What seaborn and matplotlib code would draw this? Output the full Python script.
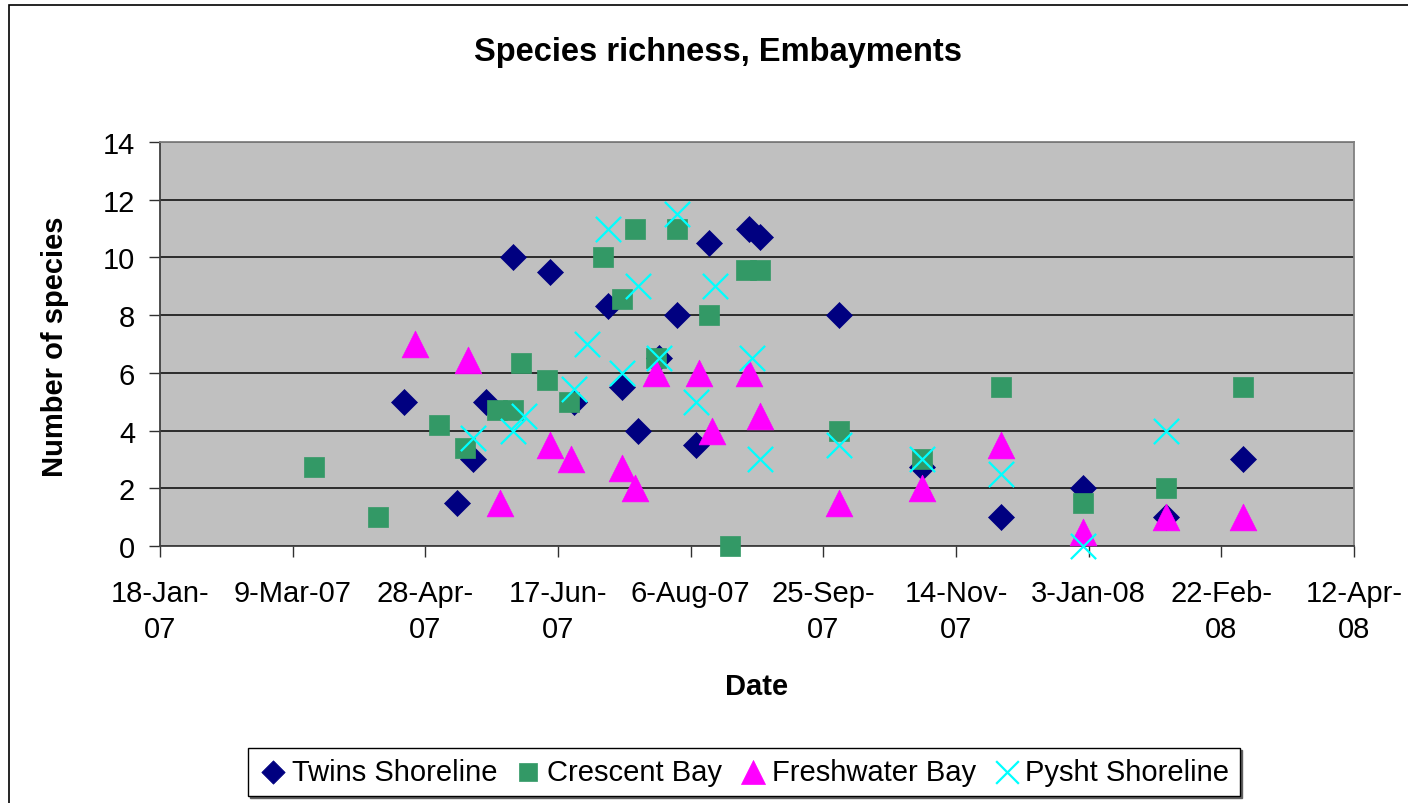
import matplotlib
matplotlib.use("Agg")
import matplotlib.pyplot as plt
from matplotlib.patches import Rectangle
import seaborn as sns
import pandas as pd

# sampling dates and species counts
twins_dates = ["2007-04-20", "2007-05-10", "2007-05-16", "2007-05-21", "2007-05-31",
               "2007-06-14", "2007-06-23", "2007-07-06", "2007-07-11", "2007-07-17",
               "2007-07-25", "2007-08-01", "2007-08-08", "2007-08-13", "2007-08-28",
               "2007-09-01", "2007-10-01", "2007-11-01", "2007-12-01", "2008-01-01",
               "2008-02-01", "2008-03-01"]
twins_values = [5, 1.5, 3, 5, 10, 9.5, 5, 8.3, 5.5, 4, 6.5, 8, 3.5, 10.5, 11, 10.7,
                8, 2.75, 1, 2, 1, 3]

crescent_dates = ["2007-03-17", "2007-04-10", "2007-05-03", "2007-05-13", "2007-05-25",
                  "2007-05-31", "2007-06-03", "2007-06-13", "2007-06-21", "2007-07-04",
                  "2007-07-11", "2007-07-16", "2007-07-24", "2007-08-01", "2007-08-13",
                  "2007-08-21", "2007-08-27", "2007-09-01", "2007-10-01", "2007-11-01",
                  "2007-12-01", "2008-01-01", "2008-02-01", "2008-03-01"]
crescent_values = [2.75, 1, 4.2, 3.4, 4.7, 4.7, 6.35, 5.75, 5, 10, 8.55, 11, 6.5, 11,
                   8, 0, 9.55, 9.55, 4, 3, 5.5, 1.5, 2, 5.5]

freshwater_dates = ["2007-04-24", "2007-05-14", "2007-05-26", "2007-06-14", "2007-06-22",
                    "2007-07-11", "2007-07-16", "2007-07-24", "2007-08-09", "2007-08-14",
                    "2007-08-28", "2007-09-01", "2007-10-01", "2007-11-01", "2007-12-01",
                    "2008-01-01", "2008-02-01", "2008-03-01"]
freshwater_values = [7, 6.45, 1.5, 3.5, 3, 2.7, 2, 6, 6, 4, 6, 4.5, 1.5, 2, 3.5, 0.5, 1, 1]

pysht_dates = ["2007-05-16", "2007-05-31", "2007-06-04", "2007-06-23", "2007-06-28",
               "2007-07-06", "2007-07-11", "2007-07-17", "2007-07-25", "2007-08-01",
               "2007-08-08", "2007-08-15", "2007-08-29", "2007-09-01", "2007-10-01",
               "2007-11-01", "2007-12-01", "2008-01-01", "2008-02-01"]
pysht_values = [3.75, 4, 4.5, 5.45, 7, 11, 6, 9, 6.5, 11.5, 5, 9, 6.5, 3, 3.5, 3, 2.5, 0, 4]

tick_dates = pd.date_range("2007-01-18", periods=10, freq="50D")
tick_labels = ["18-Jan-\n07", "9-Mar-07", "28-Apr-\n07", "17-Jun-\n07", "6-Aug-07",
               "25-Sep-\n07", "14-Nov-\n07", "3-Jan-08", "22-Feb-\n08", "12-Apr-\n08"]

series = [
    ("Twins Shoreline", twins_dates, twins_values, "#000080", "D", 175),
    ("Crescent Bay", crescent_dates, crescent_values, "#339966", "s", 200),
    ("Freshwater Bay", freshwater_dates, freshwater_values, "#FF00FF", "^", 370),
    ("Pysht Shoreline", pysht_dates, pysht_values, "#00FFFF", "x", 330),
]

sns.set_theme(style="white")
plt.rcParams["font.family"] = ["Liberation Sans", "DejaVu Sans"]
plt.rcParams["text.color"] = "black"

W, H = 1408, 804
fig = plt.figure(figsize=(W / 100, H / 100), dpi=100)
ax = fig.add_axes([160 / W, 1 - 547 / H, (1354 - 160) / W, (547 - 143) / H])
ax.set_facecolor("#C0C0C0")

for name, dates, vals, col, mk, size in series:
    df = pd.DataFrame({"Date": pd.to_datetime(dates), "Species": vals})
    if mk == "x":
        sns.scatterplot(data=df, x="Date", y="Species", ax=ax, marker=mk, s=size,
                        color=col, linewidth=1.6, label=name, legend=False,
                        zorder=3, clip_on=False)
    else:
        sns.scatterplot(data=df, x="Date", y="Species", ax=ax, marker=mk, s=size,
                        color=col, edgecolor=col, linewidth=0.5, label=name,
                        legend=False, zorder=3, clip_on=False)

ax.set_xlim(pd.Timestamp("2007-01-18"), pd.Timestamp("2008-04-12"))
ax.set_ylim(0, 14)
ax.set_yticks(range(0, 15, 2))
ax.set_xticks(tick_dates)
ax.set_xticklabels(tick_labels, linespacing=1.35)
ax.set_xlabel("")
ax.set_ylabel("")

ax.yaxis.grid(True, color="#202020", linewidth=1.3)
ax.set_axisbelow(True)
ax.tick_params(axis="x", bottom=True, direction="out", length=8, width=1,
               color="#303030", labelsize=21, pad=16, labelcolor="black")
ax.tick_params(axis="y", left=True, direction="out", length=8, width=1,
               color="#303030", labelsize=21, pad=10, labelcolor="black")
for side in ["top", "right"]:
    ax.spines[side].set_color("#808080")
    ax.spines[side].set_linewidth(1.3)
for side in ["left", "bottom"]:
    ax.spines[side].set_color("#404040")
    ax.spines[side].set_linewidth(1.3)

fig.text(718 / W, 1 - 52 / H, "Species richness, Embayments", ha="center",
         va="center", fontsize=23.5, fontweight="bold", color="black")
fig.text(55 / W, 1 - 347 / H, "Number of species", ha="center", va="center",
         rotation=90, fontsize=21, fontweight="bold", color="black")
fig.text(757 / W, 1 - 687 / H, "Date", ha="center", va="center",
         fontsize=21, fontweight="bold", color="black")

# outer chart border (runs off the right and bottom edges like the original)
fig.patches.append(Rectangle((9 / W, -0.05), 1.1, 1 - 6 / H + 0.05,
                             transform=fig.transFigure, fill=False,
                             edgecolor="black", linewidth=1.2))

handles, labels = ax.get_legend_handles_labels()
leg = fig.legend(handles, labels, loc="center", ncol=4,
                 bbox_to_anchor=(744 / W, 1 - 773 / H), fontsize=21,
                 frameon=True, fancybox=False, edgecolor="black",
                 handletextpad=0.15, columnspacing=0.55, handlelength=1.0,
                 borderpad=0.35, markerscale=0.9, labelcolor="black",
                 shadow={"ox": 1.5, "oy": -1.5, "color": "#606060", "alpha": 1})
leg.get_frame().set_linewidth(1.0)

fig.savefig("out.png", dpi=100)
